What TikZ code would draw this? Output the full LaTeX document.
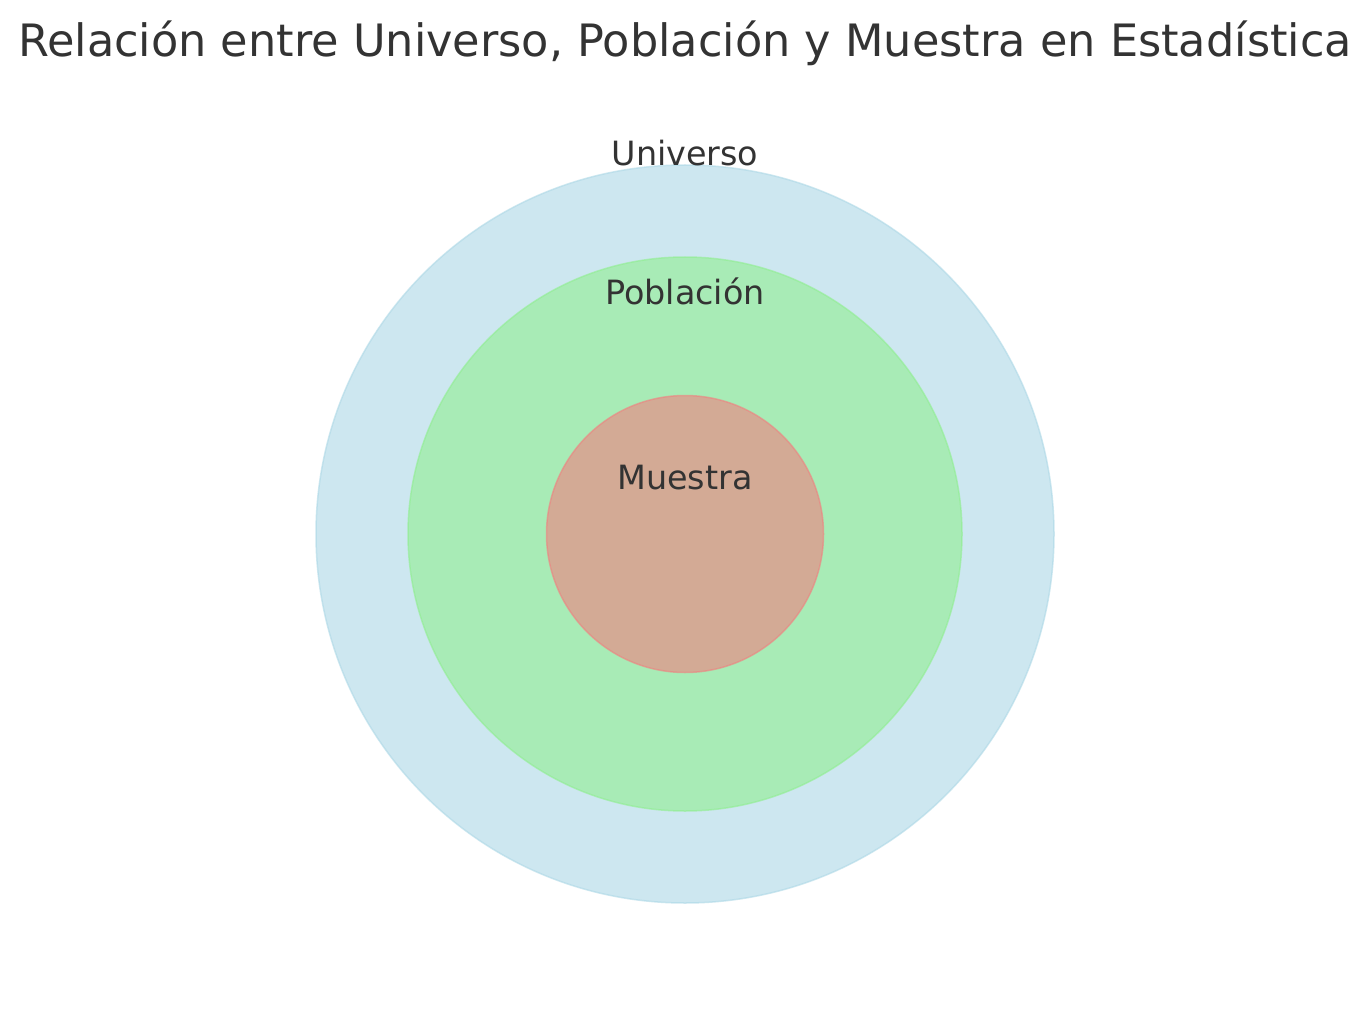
\documentclass[tikz,border=0pt]{standalone}
\usepackage{fontspec}
\setmainfont{DejaVu Sans}
\definecolor{txt}{HTML}{333333}
\definecolor{ublue}{HTML}{ADD8E6}
\definecolor{pgreen}{HTML}{90EE90}
\definecolor{mcoral}{HTML}{F08080}
\begin{document}
\begin{tikzpicture}[x=1pt,y=-1pt,
  ring/.style={line width=1.5pt, fill opacity=0.6, draw opacity=0.6},
  lbl/.style={anchor=base, text=txt, inner sep=0pt, font=\fontsize{33.4}{38}\selectfont},
  ttl/.style={anchor=base, text=txt, inner sep=0pt, font=\fontsize{44.6}{50}\selectfont}]
\useasboundingbox (0,0) rectangle (1370,1016);
\coordinate (c) at (685,534);
\fill[white] (0,0) rectangle (1370,1016);
\path[ring, fill=ublue, draw=ublue] (c) circle[radius=369];
\path[ring, fill=pgreen, draw=pgreen] (c) circle[radius=277];
\path[ring, fill=mcoral, draw=mcoral] (c) circle[radius=138.5];
\node[ttl] (title) at (685,57) {Relación entre Universo, Población y Muestra en Estadística};
\node[lbl] (univ) at (685,165.5) {Universo};
\node[lbl] (pob) at (685,304) {Población};
\node[lbl] (mue) at (685,489) {Muestra};
\end{tikzpicture}
\end{document}
